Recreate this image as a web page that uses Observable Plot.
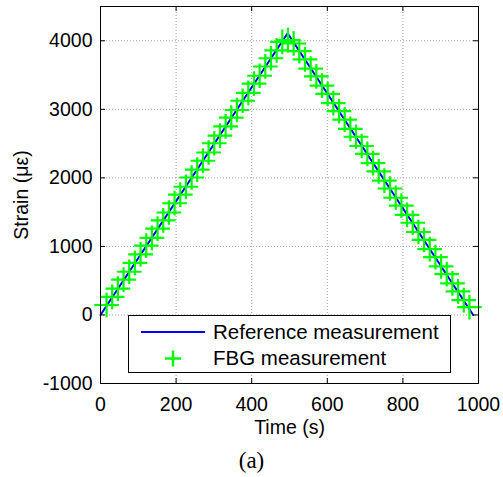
<!DOCTYPE html>
<html>
<head>
<meta charset="utf-8">
<script src="https://cdn.jsdelivr.net/npm/d3@7"></script>
<script src="https://cdn.jsdelivr.net/npm/@observablehq/plot@0.6"></script>
<style>
  html, body { margin: 0; padding: 0; background: white; }
  #wrap { position: relative; width: 503px; height: 477px; background: white; }
  #chart { position: absolute; left: 0; top: 0; }
  #caption { position: absolute; left: 0; width: 503px; top: 447px; text-align: center;
    font-family: "Liberation Serif", "DejaVu Serif", serif; font-size: 23px; line-height: 28px; color: black; }
  #legend { position: absolute; left: 128px; top: 315px; }
</style>
</head>
<body>
<div id="wrap">
  <div id="chart"></div>
  <svg id="legend" width="324" height="59"></svg>
  <div id="caption">(a)</div>
</div>
<script>
// Reference measurement (blue line): time (s) and strain (µε)
const refTime = [0, 495, 986];
const refStrain = [0, 4110, 0];

// FBG measurement (green plus markers)
const fbgTime = [16, 31, 46, 61, 76, 91, 106, 121, 136, 151, 166, 181, 196, 211, 226, 241,
  256, 271, 286, 301, 316, 331, 346, 361, 376, 391, 406, 421, 436, 451, 466, 481,
  496, 511, 526, 541, 556, 571, 586, 601, 616, 631, 646, 661, 676, 691, 706, 721,
  736, 751, 766, 781, 796, 811, 826, 841, 856, 871, 886, 901, 916, 931, 946, 961, 976];
const fbgStrain = [145, 265, 385, 515, 630, 760, 885, 1010, 1125, 1260, 1380, 1495, 1630, 1755, 1870, 2005,
  2120, 2250, 2370, 2505, 2615, 2750, 2880, 2990, 3125, 3240, 3375, 3490, 3625, 3745, 3860, 3985,
  4010, 3960, 3850, 3730, 3595, 3480, 3345, 3225, 3090, 2975, 2850, 2715, 2600, 2465, 2350, 2215,
  2095, 1960, 1845, 1710, 1595, 1460, 1345, 1210, 1095, 960, 845, 710, 595, 460, 345, 215, 115];

const xTicks = [0, 200, 400, 600, 800, 1000];
const yTicks = [-1000, 0, 1000, 2000, 3000, 4000];
const legendLabels = ["Reference measurement", "FBG measurement"];
const blue = "#0000ff", green = "#00ff00";

const ref = refTime.map((t, i) => ({t, v: refStrain[i]}));
const fbg = fbgTime.map((t, i) => ({t, v: fbgStrain[i]}));

const W = 503, H = 450, mL = 100, mR = 25, mT = 6, mB = 67;
const fw = W - mL - mR, fh = H - mT - mB;
const gridStyle = {stroke: "#a0a0a0", strokeOpacity: 1, strokeDasharray: "1,2", strokeWidth: 1};
const fmt = d => String(d);

const chart = Plot.plot({
  width: W, height: H,
  marginLeft: mL, marginRight: mR, marginTop: mT, marginBottom: mB,
  x: {domain: [0, 1000]},
  y: {domain: [-1000, 4500]},
  style: {fontFamily: "'Liberation Sans', Arial, sans-serif", fontSize: "19.5px", color: "black", background: "transparent"},
  marks: [
    Plot.gridX(xTicks.slice(1, -1), gridStyle),
    Plot.gridY(yTicks.slice(1), gridStyle),
    Plot.line(ref, {x: "t", y: "v", stroke: blue, strokeWidth: 2}),
    Plot.dot(fbg, {x: "t", y: "v", symbol: "plus", stroke: green, r: 8, strokeWidth: 2.2}),
    // inward ticks on all four sides
    Plot.tickX(xTicks, {x: d => d, insetTop: fh - 5, stroke: "black"}),
    Plot.tickX(xTicks, {x: d => d, insetBottom: fh - 5, stroke: "black"}),
    Plot.tickY(yTicks, {y: d => d, insetRight: fw - 5, stroke: "black"}),
    Plot.tickY(yTicks, {y: d => d, insetLeft: fw - 5, stroke: "black"}),
    Plot.axisX(xTicks, {anchor: "bottom", tickSize: 0, tickPadding: 13.5, tickFormat: fmt,
      label: "Time (s)", labelAnchor: "center", labelArrow: "none", labelOffset: 50}),
    Plot.axisY(yTicks, {anchor: "left", tickSize: 0, tickPadding: 8, tickFormat: fmt,
      label: "Strain (με)", labelAnchor: "center", labelArrow: "none", labelOffset: 86}),
    Plot.frame({stroke: "black", strokeWidth: 1})
  ]
});
document.getElementById("chart").appendChild(chart);

// Legend
const lg = d3.select("#legend");
lg.append("rect").attr("x", 0.5).attr("y", 0.5).attr("width", 322).attr("height", 57)
  .attr("fill", "white").attr("stroke", "black").attr("stroke-width", 1);
lg.append("line").attr("x1", 13).attr("x2", 77).attr("y1", 17).attr("y2", 17)
  .attr("stroke", blue).attr("stroke-width", 2);
lg.append("path").attr("d", "M37,43.5h16M45,35.5v16").attr("stroke", green).attr("stroke-width", 2.5).attr("fill", "none");
lg.selectAll("text.lab").data(legendLabels).join("text").attr("class", "lab")
  .attr("x", 85).attr("y", (d, i) => 24 + i * 26)
  .attr("font-family", "'Liberation Sans', Arial, sans-serif").attr("font-size", "20.5px")
  .attr("fill", "black").text(d => d);
</script>
</body>
</html>
